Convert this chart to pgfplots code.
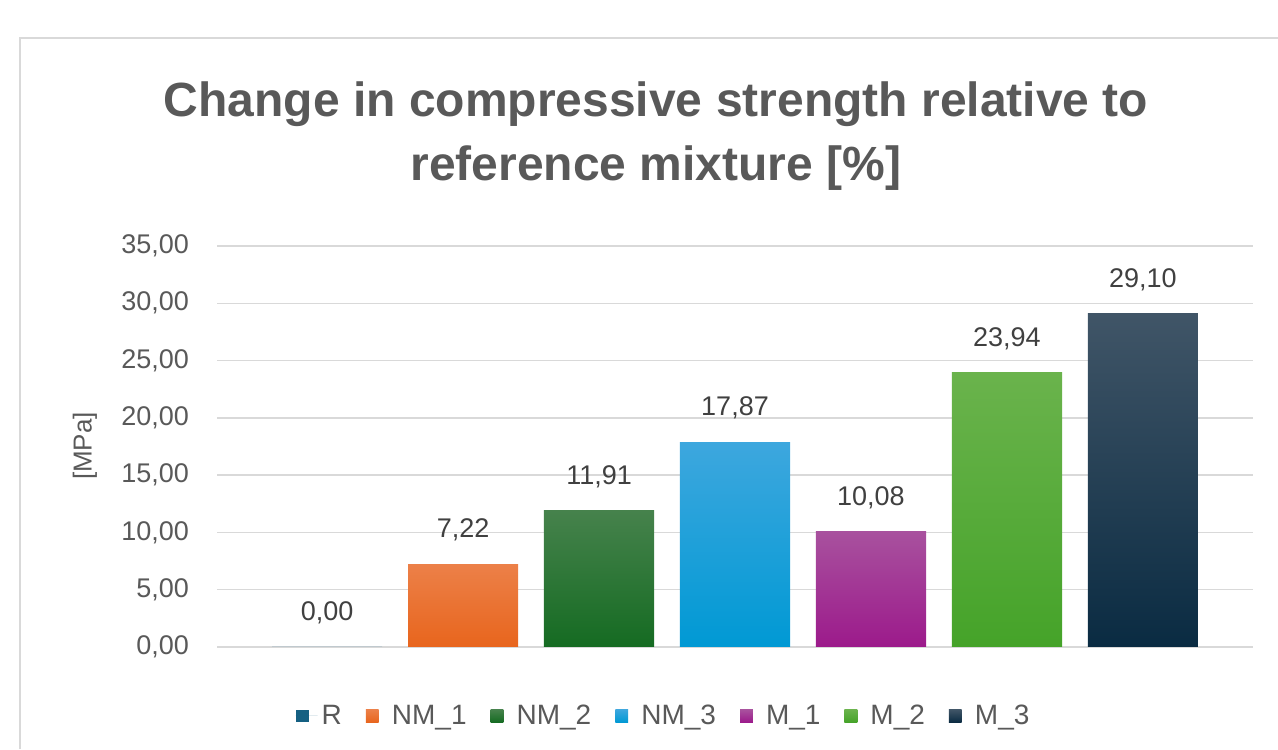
\documentclass[border=0pt]{standalone}
\usepackage{fontspec}
\setmainfont{Liberation Sans}
\usepackage{pgfplots}
\pgfplotsset{compat=1.18}
\definecolor{gridc}{HTML}{D9D9D9}
\definecolor{txt}{HTML}{595959}
\definecolor{lab}{HTML}{404040}
\definecolor{cR}{HTML}{156082}
\definecolor{aT}{HTML}{EC8048}\definecolor{aB}{HTML}{E8651D}
\definecolor{bT}{HTML}{46824C}\definecolor{bB}{HTML}{156B22}
\definecolor{cT}{HTML}{3DA7DE}\definecolor{cB}{HTML}{0099D4}
\definecolor{dT}{HTML}{A8519E}\definecolor{dB}{HTML}{9C1A8B}
\definecolor{eT}{HTML}{6AB34C}\definecolor{eB}{HTML}{45A329}
\definecolor{fT}{HTML}{405567}\definecolor{fB}{HTML}{0A2B42}
\pgfplotsset{bl/.style={bar shift=0pt, draw=none,
  legend image code/.code={\fill[##1] (0pt,-3.2pt) rectangle (6.4pt,3.2pt); \path (0pt,0pt) -- (11pt,0pt);}}}
\begin{document}
\begin{tikzpicture}
\useasboundingbox (0,0) rectangle (639pt,374.5pt);
\draw[color=gridc, line width=0.8pt] (10pt,0pt) -- (10pt,355.5pt) -- (645pt,355.5pt);
\node[anchor=base, font=\fontsize{24}{28}\selectfont\bfseries, text=txt] at (328pt,316pt) {Change in compressive strength relative to};
\node[anchor=base, font=\fontsize{24}{28}\selectfont\bfseries, text=txt] at (328pt,284pt) {reference mixture [\%]};
\node[rotate=90, font=\fontsize{13}{15}\selectfont, text=txt] at (42.5pt,151.5pt) {[MPa]};
\begin{axis}[
  at={(108.5pt,51pt)}, anchor=south west,
  scale only axis, width=518pt, height=200.5pt,
  ybar,
  xmin=-0.81, xmax=6.81, ymin=0, ymax=35,
  bar width=0.81,
  xtick=\empty,
  ytick={0,5,...,35},
  ymajorgrids, grid style={color=gridc, line width=0.75pt},
  axis line style={draw=none},
  major tick length=0pt,
  yticklabel style={font=\fontsize{13.5}{16}\selectfont, text=txt, xshift=-10.5pt,
    /pgf/number format/.cd, fixed, fixed zerofill, precision=2, use comma, assume math mode=true},
  nodes near coords={\pgfmathprintnumber[fixed,fixed zerofill,precision=2,use comma,assume math mode=true]{\pgfplotspointmeta}},
  every node near coord/.append style={font=\fontsize{13.5}{16}\selectfont, text=lab, anchor=center, yshift=17pt},
  clip=false,
  legend columns=-1,
  legend style={at={(0.432,-0.172)}, anchor=center, draw=none, fill=none,
    font=\fontsize{14}{16}\selectfont, text=txt,
    /tikz/every even column/.append style={column sep=10pt}},
]
\addplot[bl, fill=cR] coordinates {(0,0)};
\addplot[bl, top color=aT, bottom color=aB] coordinates {(1,7.22)};
\addplot[bl, top color=bT, bottom color=bB] coordinates {(2,11.91)};
\addplot[bl, top color=cT, bottom color=cB] coordinates {(3,17.87)};
\addplot[bl, top color=dT, bottom color=dB] coordinates {(4,10.08)};
\addplot[bl, top color=eT, bottom color=eB] coordinates {(5,23.94)};
\addplot[bl, top color=fT, bottom color=fB] coordinates {(6,29.10)};
\legend{R, NM\_1, NM\_2, NM\_3, M\_1, M\_2, M\_3}
\end{axis}
\end{tikzpicture}
\end{document}
